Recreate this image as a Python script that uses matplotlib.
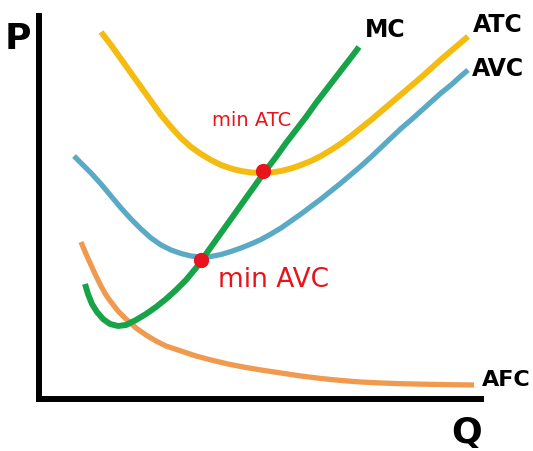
import matplotlib.pyplot as plt

# krzywe kosztów (Q, P)
atc_q = [62, 72, 82, 92, 102, 112, 122, 132, 142, 152, 162, 172, 182, 192, 202, 212, 222, 232, 242,
         252, 262, 272, 282, 292, 302, 312, 322, 332, 342, 352, 362, 372, 382, 392, 402, 412, 422, 429]
atc_p = [367, 354, 340, 326, 312, 298, 284, 272, 261, 252, 245, 239, 234, 230.5, 228, 226.5, 226, 226.5, 228,
         230.5, 234, 238, 243, 249, 255.5, 263, 271, 279, 287.5, 296, 304.5, 313, 321.5, 330.5, 339.5, 348, 356.5, 362.5]

avc_q = [35, 42, 52, 62, 72, 82, 92, 102, 112, 122, 132, 142, 152, 162, 172, 182, 192, 202, 212, 222, 232,
         242, 252, 262, 272, 282, 292, 302, 312, 322, 332, 342, 352, 362, 372, 382, 392, 402, 412, 422, 429]
avc_p = [243, 236, 226, 215, 203, 191, 180, 170, 161, 154, 149, 145.5, 143, 142, 142.5, 144.5, 147.5, 151, 155, 159.5, 165,
         171, 178, 185, 192.5, 200, 208, 216, 224.5, 233, 242, 251.5, 261, 270.5, 279, 288, 297, 306, 314, 323, 329]

mc_q = [46, 49, 53, 58, 64, 71, 79, 87, 97, 107, 117, 127, 137, 147, 157, 167, 177, 187, 197, 207, 217,
        227, 237, 247, 257, 267, 277, 287, 297, 307, 314, 320]
mc_p = [115, 105, 95, 87, 80, 75, 73, 74, 79, 85, 92, 100, 109, 119, 131, 145, 159, 173, 187, 201, 215,
        229, 242, 256, 269, 282, 296, 309, 322, 335, 344, 352]

afc_q = [42, 47, 52, 57, 62, 67, 72, 79, 87, 97, 107, 117, 127, 142, 157, 172, 189, 207, 222, 242, 262,
         282, 302, 322, 342, 362, 389, 412, 435]
afc_p = [157, 145, 134, 123, 113, 104, 97, 88, 80, 71, 64, 58, 53, 48, 43, 39, 35, 31.5, 29, 26, 23,
         20.5, 18.5, 17, 16, 15.3, 14.7, 14.3, 14]

# punkty minimum (przecięcia z MC)
min_q = [224, 162]
min_p = [228, 139]

fig = plt.figure(figsize=(5.33, 4.52), dpi=100)
ax = fig.add_axes([39 / 533, 52 / 452, 442 / 533, 383 / 452])
ax.set_xlim(0, 442)
ax.set_ylim(0, 383)

line_kw = dict(solid_joinstyle="round", solid_capstyle="butt")
ax.plot(afc_q, afc_p, color="#F09A50", lw=3.8, **line_kw)
ax.plot(avc_q, avc_p, color="#5AAAC6", lw=3.8, **line_kw)
ax.plot(atc_q, atc_p, color="#F4BC10", lw=4.3, **line_kw)
ax.plot(mc_q, mc_p, color="#17A348", lw=4.3, **line_kw)
ax.plot(min_q, min_p, "o", color="#E8141C", ms=10, zorder=5)

for s in ["top", "right"]:
    ax.spines[s].set_visible(False)
for s in ["left", "bottom"]:
    ax.spines[s].set_linewidth(4.3)
    ax.spines[s].set_color("black")
ax.set_xticks([])
ax.set_yticks([])

kw = dict(fontweight="bold", ha="center", va="center", color="black")
ax.text(346, 370, "MC", fontsize=17, **kw)
ax.text(459, 375, "ATC", fontsize=17, **kw)
ax.text(459, 331, "AVC", fontsize=17, **kw)
ax.text(467, 20, "AFC", fontsize=16, **kw)
ax.text(-21, 361, "P", fontsize=26, **kw)
ax.text(428, -33, "Q", fontsize=26, **kw)

ax.text(213, 280, "min ATC", fontsize=14, color="#E8141C", ha="center", va="center")
ax.text(235, 120, "min AVC", fontsize=19, color="#E8141C", ha="center", va="center")

plt.savefig("out.png", dpi=100)
